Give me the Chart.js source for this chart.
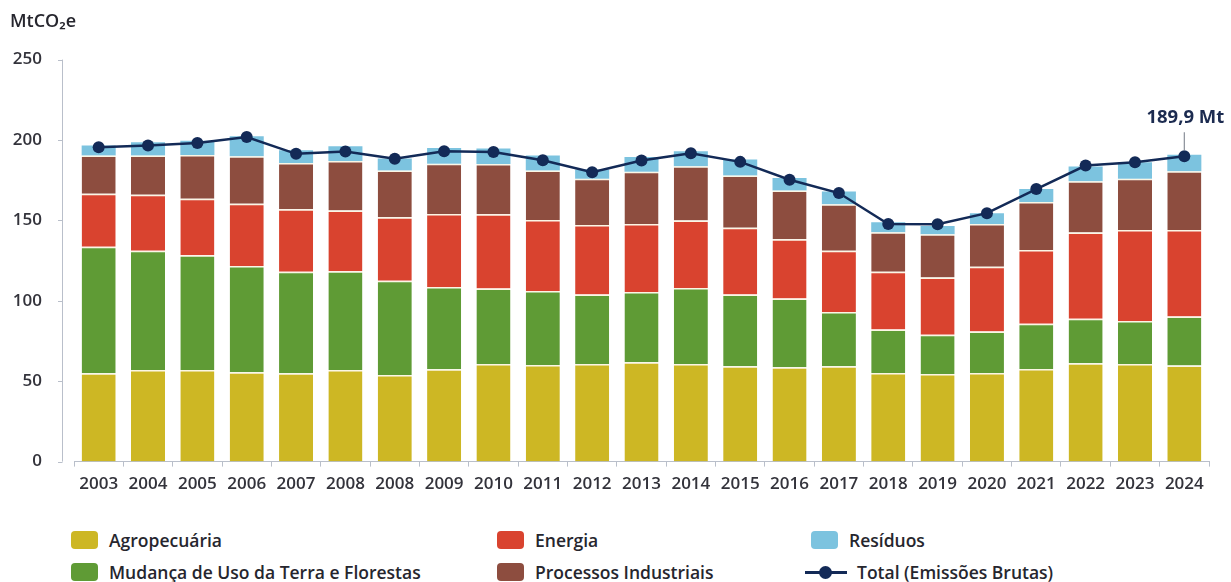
<!DOCTYPE html>
<html lang="pt">
<head>
  <meta charset="UTF-8" />
  <title>Emissões brutas por setor</title>
  <script src="https://cdn.jsdelivr.net/npm/chart.js"></script>
  <style>
    * { margin: 0; padding: 0; box-sizing: border-box; }
    body {
      background: #fff;
      font-family: 'Open Sans', sans-serif;
      width: 1231px;
      height: 582px;
      overflow: hidden;
      position: relative;
    }
    .chart-box { position: absolute; left: 0; top: 0; width: 1231px; height: 507px; }
    .legend-item {
      position: absolute;
      display: flex;
      align-items: center;
      font-size: 17.5px;
      font-weight: 600;
      color: #26262e;
      white-space: nowrap;
      height: 20px;
    }
    .swatch { width: 27px; height: 18px; border-radius: 4px; margin-right: 11px; }
    .line-marker { position: relative; width: 42px; height: 18px; margin-right: 10px; }
    .line-marker::before {
      content: ''; position: absolute; left: 0; right: 0; top: 8px; height: 3px; background: #132a57;
    }
    .line-marker::after {
      content: ''; position: absolute; left: 14px; top: 3px; width: 13px; height: 13px;
      border-radius: 50%; background: #132a57;
    }
  </style>
</head>
<body>
  <div class="chart-box"><canvas id="chart"></canvas></div>
  <div id="legend"></div>

  <script>
    const years = ['2003', '2004', '2005', '2006', '2007', '2008', '2008', '2009', '2010', '2011', '2012',
      '2013', '2014', '2015', '2016', '2017', '2018', '2019', '2020', '2021', '2022', '2023', '2024'];

    const agropecuaria = [54.9, 57.0, 57.0, 55.5, 54.9, 57.0, 53.9, 57.4, 60.7, 60.1, 60.7,
      61.8, 60.7, 59.3, 58.6, 59.3, 55.1, 54.5, 55.1, 57.6, 61.1, 60.7, 59.7];
    const mudancaUsoTerra = [78.7, 74.1, 71.4, 66.1, 63.1, 61.4, 58.5, 51.2, 46.9, 46.0, 43.2,
      43.7, 47.3, 44.6, 42.8, 33.7, 27.1, 24.4, 25.8, 28.1, 27.8, 26.7, 30.6];
    const energia = [33.0, 34.8, 35.0, 38.7, 39.0, 37.7, 39.6, 45.4, 46.3, 44.2, 43.3,
      42.3, 41.9, 41.6, 36.8, 38.1, 35.8, 35.6, 40.2, 45.9, 53.5, 56.6, 53.7];
    const processosIndustriais = [23.7, 24.4, 27.3, 29.6, 28.7, 30.9, 29.0, 31.3, 31.2, 30.8, 28.7,
      32.5, 33.7, 32.5, 30.4, 29.0, 24.6, 26.9, 26.7, 29.8, 31.9, 31.9, 36.5];
    const residuos = [6.3, 8.3, 8.8, 12.5, 7.9, 9.1, 7.5, 9.7, 9.6, 9.2, 5.7,
      9.2, 9.4, 9.8, 7.8, 7.9, 6.3, 5.1, 6.7, 8.1, 9.2, 10.2, 10.4];
    const totalBruto = [195.5, 196.6, 198.2, 201.8, 191.4, 192.8, 188.4, 193.0, 192.6, 187.4, 179.9,
      187.2, 191.8, 186.4, 175.3, 167.0, 147.8, 147.6, 154.5, 169.5, 184.1, 186.1, 189.9];

    const yTicks = [0, 50, 100, 150, 200, 250];

    const axisColor = '#b9bfca';
    const navy = '#132a57';
    const sepColor = '#fbf6e4';

    Chart.defaults.font.family = "'Open Sans', sans-serif";

    function barSet(label, data, color, withTop) {
      return {
        type: 'bar',
        label: label,
        data: data,
        backgroundColor: color,
        borderColor: sepColor,
        borderWidth: withTop ? { top: 1.5, left: 0, right: 0, bottom: 0 } : 0,
        borderSkipped: false,
        barPercentage: 0.69,
        categoryPercentage: 1,
        stack: 'setores',
        order: 1
      };
    }

    // y axis line sits a little left of the plot area, like the original
    const yAxisLine = {
      id: 'yAxisLine',
      afterDraw(chart) {
        const { ctx, chartArea, scales } = chart;
        const x = chartArea.left - 12;
        ctx.save();
        ctx.strokeStyle = axisColor;
        ctx.lineWidth = 1;
        ctx.beginPath();
        ctx.moveTo(x + 0.5, scales.y.getPixelForValue(yTicks[yTicks.length - 1]));
        ctx.lineTo(x + 0.5, scales.y.getPixelForValue(0));
        yTicks.forEach(v => {
          const py = Math.round(scales.y.getPixelForValue(v)) + 0.5;
          ctx.moveTo(x - 4, py);
          ctx.lineTo(x + 0.5, py);
        });
        ctx.stroke();
        ctx.restore();
      }
    };

    // callout for the last total
    const lastLabel = {
      id: 'lastLabel',
      afterDatasetsDraw(chart) {
        const idx = chart.data.datasets.findIndex(d => d.type === 'line');
        const pts = chart.getDatasetMeta(idx).data;
        const pt = pts[pts.length - 1];
        const { ctx } = chart;
        ctx.save();
        ctx.strokeStyle = '#8a8f99';
        ctx.lineWidth = 1.2;
        ctx.beginPath();
        ctx.moveTo(pt.x, pt.y - 24);
        ctx.lineTo(pt.x, pt.y - 6);
        ctx.stroke();
        ctx.fillStyle = '#1c2b50';
        ctx.font = "bold 18.5px 'Open Sans', sans-serif";
        ctx.textAlign = 'center';
        ctx.textBaseline = 'middle';
        const v = totalBruto[totalBruto.length - 1];
        ctx.fillText(v.toFixed(1).replace('.', ',') + ' Mt', pt.x + 1, pt.y - 39);
        ctx.restore();
      }
    };

    const datasets = [
      barSet('Agropecuária', agropecuaria, '#cdb724', true),
      barSet('Mudança de Uso da Terra e Florestas', mudancaUsoTerra, '#5f9b35', true),
      barSet('Energia', energia, '#d9432f', true),
      barSet('Processos Industriais', processosIndustriais, '#8d4d3f', true),
      barSet('Resíduos', residuos, '#7cc3df', false),
      {
        type: 'line',
        label: 'Total (Emissões Brutas)',
        data: totalBruto,
        borderColor: navy,
        backgroundColor: navy,
        borderWidth: 2.5,
        pointRadius: 6,
        pointBackgroundColor: navy,
        pointBorderWidth: 0,
        tension: 0,
        order: 0
      }
    ];

    const chart = new Chart(document.getElementById('chart'), {
      data: { labels: years, datasets: datasets },
      options: {
        responsive: true,
        maintainAspectRatio: false,
        animation: false,
        layout: { padding: { left: 10, right: 22, top: 0, bottom: 6 } },
        plugins: {
          legend: { display: false },
          tooltip: { enabled: false },
          title: {
            display: true,
            text: 'MtCO₂e',
            align: 'start',
            color: '#26262e',
            font: { size: 18, weight: '600' },
            padding: { top: 11, bottom: 27 }
          }
        },
        scales: {
          x: {
            stacked: true,
            grid: { display: true, drawOnChartArea: false, drawTicks: true, tickLength: 5, color: axisColor },
            border: { display: true, color: axisColor },
            ticks: { color: '#33333b', font: { size: 17, weight: '600' }, padding: 7, maxRotation: 0, autoSkip: false }
          },
          y: {
            stacked: true,
            min: 0,
            max: 250,
            afterFit(scale) { scale.width = 64; },
            grid: { display: false },
            border: { display: false },
            ticks: { stepSize: 50, color: '#33333b', font: { size: 17, weight: '600' }, padding: 24 }
          }
        }
      },
      plugins: [yAxisLine, lastLabel]
    });

    // legend in three columns, as in the original
    const legendCols = [71, 497, 811];
    const legendRows = [530, 562];
    const legendOrder = [0, 2, 4, 1, 3, 5];
    const legendEl = document.getElementById('legend');
    legendOrder.forEach((dsIndex, i) => {
      const ds = chart.data.datasets[dsIndex];
      const col = i % 3;
      const row = Math.floor(i / 3);
      const item = document.createElement('div');
      item.className = 'legend-item';
      item.style.left = (ds.type === 'line' ? legendCols[col] - 6 : legendCols[col]) + 'px';
      item.style.top = legendRows[row] + 'px';
      const mark = document.createElement('span');
      if (ds.type === 'line') {
        mark.className = 'line-marker';
      } else {
        mark.className = 'swatch';
        mark.style.background = ds.backgroundColor;
      }
      const text = document.createElement('span');
      text.textContent = ds.label;
      item.appendChild(mark);
      item.appendChild(text);
      legendEl.appendChild(item);
    });
  </script>
</body>
</html>
